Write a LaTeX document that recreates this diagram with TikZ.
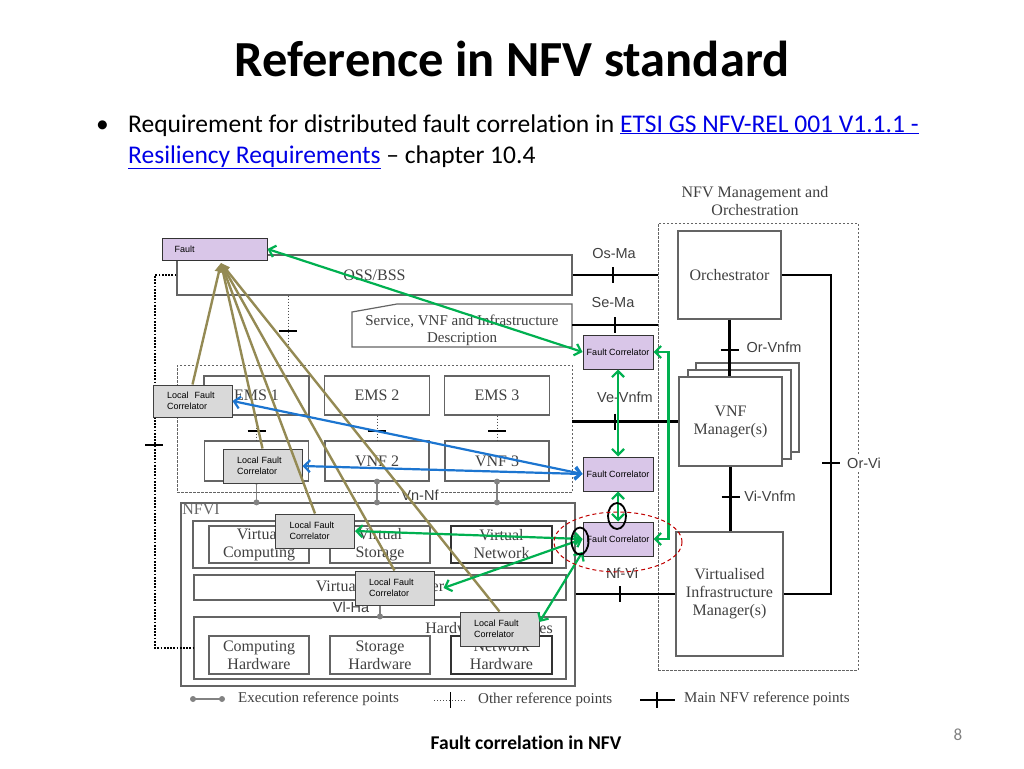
\documentclass[tikz,border=0pt]{standalone}
\usepackage{fontspec}
\setmainfont{Carlito}[Ligatures=NoCommon]
\newfontfamily\serifdiag{Liberation Serif}
\newfontfamily\sansdiag{Liberation Sans}
\usetikzlibrary{arrows.meta}

\definecolor{fclilac}{RGB}{217,198,232}
\definecolor{lfcgray}{RGB}{217,217,217}
\definecolor{arrolive}{RGB}{148,138,84}
\definecolor{arrblue}{RGB}{28,117,208}
\definecolor{arrgreen}{RGB}{0,176,80}
\definecolor{ringred}{RGB}{192,0,0}
\definecolor{linkblue}{RGB}{0,0,230}
\definecolor{diaggray}{RGB}{64,64,64}
\definecolor{edgegray}{RGB}{100,100,100}
\definecolor{execgray}{RGB}{130,130,130}

% short reference-point ticks
\newcommand{\vtick}[2]{\draw[line width=1.6pt] (#1,#2-8) -- (#1,#2+8);}
\newcommand{\htick}[2]{\draw[line width=1.4pt] (#1-9,#2) -- (#1+9,#2);}

\begin{document}
\begin{tikzpicture}[x=1pt,y=-1pt,
	every node/.append style={inner sep=0pt},
	box/.style={draw=edgegray, line width=1.2pt, fill=white, align=center, text=diaggray, font=\serifdiag\fontsize{16}{18}\selectfont},
	area/.style={draw=edgegray, line width=0.9pt, dash pattern=on 2.5pt off 1.5pt},
	fcbox/.style={draw=black!80, line width=1pt, fill=fclilac, minimum width=70, minimum height=34, font=\sansdiag\fontsize{9}{10}\selectfont},
	lfcbox/.style={draw=black!75, line width=1pt, fill=lfcgray, minimum width=79, minimum height=34, text width=51, align=left, font=\sansdiag\fontsize{9}{10.5}\selectfont},
	reflbl/.style={font=\sansdiag\fontsize{14.5}{16}\selectfont, text=diaggray},
	lbl/.style={font=\serifdiag\fontsize{16}{18}\selectfont, text=diaggray, align=center},
	mainref/.style={line width=2.6pt, black},
	otherref/.style={line width=1pt, black!70, dotted},
	execref/.style={line width=1.8pt, execgray},
	olivearrow/.style={line width=2.4pt, arrolive, -{Triangle[length=9pt,width=8pt]}},
	bluearrow/.style={line width=2.2pt, arrblue, {Straight Barb[length=6pt,width=12pt]}-{Straight Barb[length=6pt,width=12pt]}},
	greenarrow/.style={line width=2.2pt, arrgreen, {Straight Barb[length=6pt,width=12pt]}-{Straight Barb[length=6pt,width=12pt]}},
	]
	\useasboundingbox (0,0) rectangle (1024,768);

	% slide text
	\node[anchor=base, font=\bfseries\fontsize{50.5}{56}\selectfont] (title) at (512,76) {Reference in NFV standard};
	\node[anchor=base west, font=\fontsize{25.5}{30}\selectfont] (bullet) at (96,132) {\textbullet};
	\node[anchor=base west, font=\fontsize{25.5}{30}\selectfont] (line1) at (128,132) {Requirement for distributed fault correlation in {\color{linkblue}\underline{ETSI GS NFV-REL 001 V1.1.1 -}}};
	\node[anchor=base west, font=\fontsize{25.5}{30}\selectfont] (line2) at (128,163) {{\color{linkblue}\underline{Resiliency Requirements}} -- chapter 10.4};
	\node[anchor=base, font=\bfseries\fontsize{19.5}{22}\selectfont] (footer) at (526,749) {Fault correlation in NFV};
	\node[anchor=base, text=black!50, font=\fontsize{17}{20}\selectfont] (pageno) at (958,740) {8};

	% management and orchestration
	\node[area, minimum width=200, minimum height=447] (mano) at (758,446.5) {};
	\node[lbl] (manolbl) at (755,201) {NFV Management and\\Orchestration};
	\node[box, minimum width=103, minimum height=88] (orch) at (729.5,275) {Orchestrator};
	\foreach \dx/\dy in {17/-14,9/-7}
		\draw[edgegray, line width=1.2pt, fill=white] (679+\dx,377+\dy) rectangle ++(103,89);
	\node[box, minimum width=103, minimum height=89] (vnfm) at (730.5,421.5) {VNF\\Manager(s)};
	\node[box, minimum width=107, minimum height=124] (vim) at (729.5,594) {Virtualised\\Infrastructure\\Manager(s)};

	% OSS/BSS, descriptions, EMS and VNF
	\node[box, minimum width=395, minimum height=40] (oss) at (374.5,275) {OSS/BSS};
	\draw[edgegray, line width=1.2pt, fill=white] (352,347) -- (352,312) -- (397,304) -- (572,304) -- (572,347) -- cycle;
	\node[lbl, font=\serifdiag\fontsize{15}{17}\selectfont] (sdesc) at (462,330) {Service, VNF and Infrastructure\\Description};
	\coordinate (sdescR) at (572,325);
	\node[area, minimum width=395, minimum height=127] (vnfarea) at (374.5,428.5) {};
	\foreach \i/\x in {1/256.5,2/377,3/497} {
		\node[box, minimum width=105, minimum height=39] (ems\i) at (\x,395.5) {EMS \i};
		\node[box, minimum width=104, minimum height=40] (vnf\i) at (\x,461) {VNF \i};
		\draw[otherref] (ems\i.south) -- (ems\i.south |- vnf\i.north);
		\htick{\x}{431}
	}
	\draw[otherref] ([xshift=-86.5pt]oss.south) -- ([xshift=-86.5pt]oss.south |- vnfarea.north);
	\htick{288}{331}
	\node[reflbl, fill=white, inner sep=2pt] (vnnf) at (420,495) {Vn-Nf};

	% NFVI
	\node[box, minimum width=394, minimum height=183] (nfvi) at (378,594.5) {};
	\node[lbl, text=black!60] (nfvilbl) at (201,509) {NFVI};
	\node[box, minimum width=373, minimum height=47] (vres) at (379.5,544.5) {};
	\node[box, minimum width=100, minimum height=37] (vcomp) at (259,544.5) {Virtual\\Computing};
	\node[box, minimum width=100, minimum height=37] (vstor) at (380,544.5) {Virtual\\Storage};
	\node[box, minimum width=101, minimum height=37, draw=black!80] (vnet) at (501.5,544.5) {Virtual\\Network};
	\node[box, minimum width=372, minimum height=25] (vlayer) at (380,587.5) {Virtualisation Layer};
	\node[box, minimum width=372, minimum height=62] (hwres) at (380,648) {};
	\node[lbl] (hwlbl) at (489,628) {Hardware resources};
	\node[box, minimum width=100, minimum height=38] (comph) at (259,655) {Computing\\Hardware};
	\node[box, minimum width=100, minimum height=38] (storh) at (380,655) {Storage\\Hardware};
	\node[box, minimum width=101, minimum height=38, draw=black!80] (neth) at (501.5,655) {Network\\Hardware};
	\node[reflbl] (vlha) at (351,607) {Vl-Ha};

	% execution reference points
	\foreach \i in {1,2,3} {
		\draw[execref] (vnf\i.south) -- (vnf\i.south |- nfvi.north);
		\fill[execgray] (vnf\i.south) circle (3);
		\fill[execgray] (vnf\i.south |- nfvi.north) circle (3);
	}
	\draw[execref] (vlayer.south) -- (hwres.north);
	\fill[execgray] (hwres.north) circle (3);

	% main reference points
	\draw[mainref] (oss.east) -- (oss.east -| mano.west);
	\vtick{613}{275}
	\node[reflbl] (osma) at (614,254) {Os-Ma};
	\draw[mainref] (sdescR) -- (sdescR -| mano.west);
	\vtick{615}{325}
	\node[reflbl] (sema) at (613,303) {Se-Ma};
	\draw[mainref] (vnfarea.east |- vnfm.west) -- (vnfm.west);
	\vtick{615}{421.5}
	\node[reflbl] (vevnfm) at (625,397) {Ve-Vnfm};
	\draw[mainref] (orch.south) -- (orch.south |- vnfm.north);
	\htick{729.5}{350}
	\node[reflbl] (orvnfm) at (774,347) {Or-Vnfm};
	\draw[mainref] (vnfm.south) -- (vnfm.south |- vim.north);
	\htick{730.5}{497}
	\node[reflbl] (vivnfm) at (770,496) {Vi-Vnfm};
	\draw[mainref] (orch.east) -- (831,275) |- (vim.east);
	\htick{831}{463}
	\node[reflbl, fill=white, inner sep=2pt] (orvi) at (864,463) {Or-Vi};
	\draw[mainref] (nfvi.east |- vim.west) -- (vim.west);
	\vtick{620}{594}
	\node[reflbl] (nfvilink) at (622,573) {Nf-Vi};

	% heavy dotted link OSS/BSS to hardware
	\draw[line width=2.4pt, dash pattern=on 1.8pt off 1.4pt] (oss.west) -- (155,275) -- (155,648) -- (hwres.west);
	\draw[line width=1.5pt] (145,445) -- (163,445);

	% legend
	\draw[execref] (193,699) -- (222,699);
	\fill[execgray] (193,699) circle (3);
	\fill[execgray] (222,699) circle (3);
	\node[lbl, anchor=west, font=\serifdiag\fontsize{15}{17}\selectfont] (lgexec) at (238,699) {Execution reference points};
	\draw[otherref] (434,700) -- (466,700);
	\draw[line width=0.8pt] (450,692) -- (450,708);
	\node[lbl, anchor=west, font=\serifdiag\fontsize{15}{17}\selectfont] (lgother) at (478,700) {Other reference points};
	\draw[mainref] (640,700) -- (675,700);
	\vtick{657}{700}
	\node[lbl, anchor=west, font=\serifdiag\fontsize{15}{17}\selectfont] (lgmain) at (684,699) {Main NFV reference points};

	% correlators
	\node[draw=black!80, line width=1pt, fill=fclilac, minimum width=105, minimum height=22, text width=80, align=left, font=\sansdiag\fontsize{9}{10}\selectfont] (fault) at (214.5,249) {Fault};
	\node[fcbox] (fc1) at (618,352) {Fault Correlator};
	\node[fcbox] (fc2) at (618,474) {Fault Correlator};
	\node[fcbox] (fc3) at (618,539) {Fault Correlator};
	\node[lfcbox, minimum height=32] (lfc1) at (192.5,401) {Local\ \ Fault\\Correlator};
	\node[lfcbox] (lfc2) at (262.5,466) {Local Fault\\Correlator};
	\node[lfcbox] (lfc3) at (315,531) {Local Fault\\Correlator};
	\node[lfcbox] (lfc4) at (394.5,588) {Local Fault\\Correlator};
	\node[lfcbox] (lfc5) at (499.5,629) {Local Fault\\Correlator};

	% fault flows
	\coordinate (faulttip) at (221,263);
	\foreach \i in {1,...,5}
		\draw[olivearrow] (lfc\i.north) -- (faulttip);
	\draw[bluearrow] (lfc1.east) -- (fc2.west);
	\draw[bluearrow] (lfc2.east) -- (fc2.west);
	\draw[greenarrow] (fault.east) -- (fc1.west);
	\draw[greenarrow] (fc1.south) -- (fc2.north);
	\draw[greenarrow] (fc2.south) -- (fc3.north);
	\draw[greenarrow] (fc1.east) -- ++(15,0) |- (fc3.east);
	\draw[greenarrow] (fc3.west) -- (lfc3.east);
	\draw[greenarrow] (fc3.west) -- ([xshift=9pt]lfc4.east);
	\draw[greenarrow] (fc3.200) -- (lfc5.10);

	% highlights
	\draw[black, line width=1.8pt] (617,516) ellipse (9 and 13);
	\draw[black, line width=1.8pt] (580,541) ellipse (8.5 and 13.5);
	\draw[ringred, line width=1pt, dash pattern=on 4pt off 3pt] (618,542) ellipse (64 and 30);
\end{tikzpicture}
\end{document}
